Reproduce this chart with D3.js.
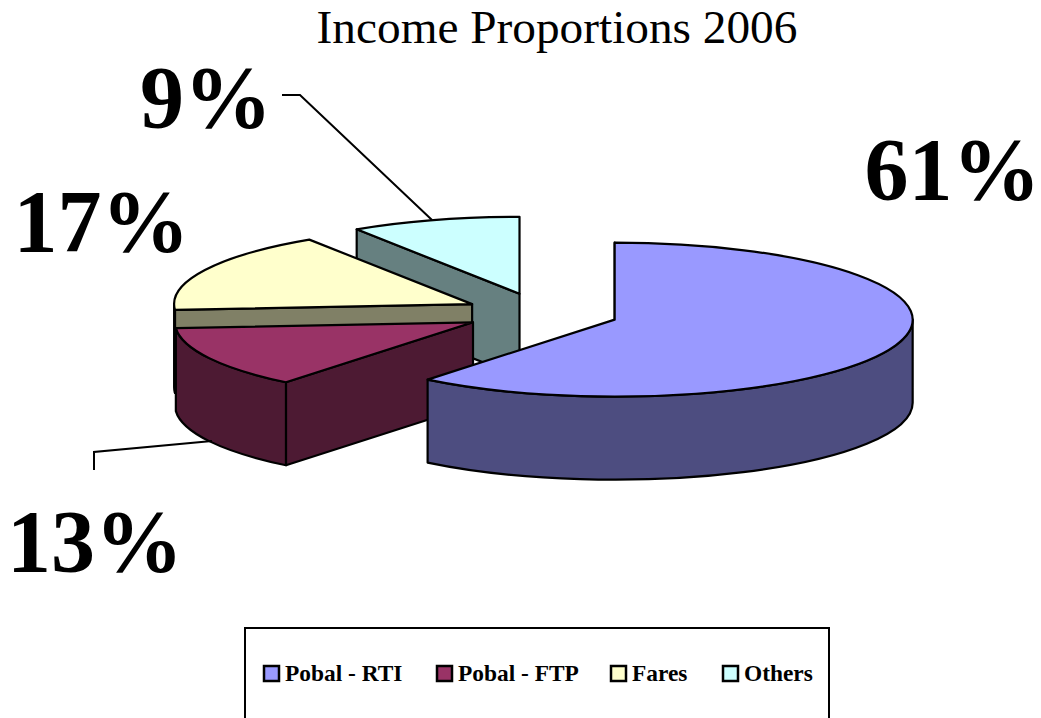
<!DOCTYPE html>
<html>
<head>
<meta charset="utf-8">
<script src="https://cdn.jsdelivr.net/npm/d3@7"></script>
<style>
body { margin: 0; background: #fff; }
text { font-family: "Liberation Serif", serif; fill: #000; }
</style>
</head>
<body>
<div id="vis"></div>
<script>
const categories = ['Pobal - RTI', 'Pobal - FTP', 'Fares', 'Others'];
const values = [60.8, 13, 17, 9.2];
const topColors = ['#9999ff', '#993366', '#ffffcc', '#ccffff'];
const sideColors = ['#4d4d80', '#4d1a33', '#808066', '#668080'];
const labels = ['61%', '13%', '17%', '9%'];

const width = 1041, height = 718;
const cx = 541.6, cy = 313;
const rx = 298, ry = 77, depth = 83, explode = 0.26;

const svg = d3.select('#vis').append('svg')
    .attr('width', width)
    .attr('height', height)
    .style('display', 'block');

svg.append('text')
    .attr('x', 557).attr('y', 43)
    .attr('text-anchor', 'middle')
    .attr('font-size', 47.3)
    .text('Income Proportions 2006');

const arcs = d3.pie().sort(null).startAngle(0).endAngle(2 * Math.PI)(values);

function rim(d, a) {
    return [d.ox + rx * Math.sin(a), d.oy - ry * Math.cos(a)];
}

arcs.forEach(d => {
    const mid = (d.startAngle + d.endAngle) / 2;
    d.ox = cx + rx * explode * Math.sin(mid);
    d.oy = cy - ry * explode * Math.cos(mid);
});

function topPath(d) {
    const s = rim(d, d.startAngle), e = rim(d, d.endAngle);
    const large = d.endAngle - d.startAngle > Math.PI ? 1 : 0;
    return `M${d.ox},${d.oy}L${s}A${rx},${ry} 0 ${large} 1 ${e}Z`;
}

function startFace(d) {
    const s = rim(d, d.startAngle);
    return `M${d.ox},${d.oy}L${s}l0,${depth}L${d.ox},${d.oy + depth}Z`;
}

// outer wall is only seen on the front half of the ellipse
function wallPath(d) {
    const a0 = Math.max(d.startAngle, Math.PI / 2);
    const a1 = Math.min(d.endAngle, 3 * Math.PI / 2);
    if (a1 <= a0) return null;
    const s = rim(d, a0), e = rim(d, a1);
    return `M${s}A${rx},${ry} 0 0 1 ${e}l0,${depth}A${rx},${ry} 0 0 0 ${s[0]},${s[1] + depth}Z`;
}

// back to front: Others, Fares, FTP, RTI
const order = [3, 2, 1, 0];
const pie = svg.append('g')
    .attr('stroke', '#000')
    .attr('stroke-width', 2.2)
    .attr('stroke-linejoin', 'round');

order.forEach(i => {
    const d = arcs[i];
    pie.append('path').attr('d', startFace(d)).attr('fill', sideColors[i]);
    const w = wallPath(d);
    if (w) pie.append('path').attr('d', w).attr('fill', sideColors[i]);
    pie.append('path').attr('d', topPath(d)).attr('fill', topColors[i]);
});

// leader lines
const leaders = [
    [[282, 95], [300, 95], [432, 220]],
    [[94, 470], [94, 452], [212, 441]]
];
svg.selectAll('.leader')
    .data(leaders)
    .join('path')
    .attr('class', 'leader')
    .attr('d', d3.line())
    .attr('fill', 'none')
    .attr('stroke', '#000')
    .attr('stroke-width', 2);

const labelPos = [[952.5, 199], [95, 571], [101.5, 251], [206, 127]];
svg.selectAll('.pct')
    .data(labels)
    .join('text')
    .attr('class', 'pct')
    .attr('x', (d, i) => labelPos[i][0])
    .attr('y', (d, i) => labelPos[i][1])
    .attr('text-anchor', 'middle')
    .attr('font-size', 88)
    .attr('font-weight', 'bold')
    .text(d => d);

// legend
svg.append('rect')
    .attr('x', 245).attr('y', 628)
    .attr('width', 584).attr('height', 110)
    .attr('fill', '#fff')
    .attr('stroke', '#000')
    .attr('stroke-width', 2);

const legendX = d3.scaleOrdinal().domain(categories).range([264, 437, 611, 723]);
const legend = svg.selectAll('.legend')
    .data(categories)
    .join('g')
    .attr('class', 'legend')
    .attr('transform', d => `translate(${legendX(d)},666)`);
legend.append('rect')
    .attr('width', 15).attr('height', 15)
    .attr('fill', (d, i) => topColors[i])
    .attr('stroke', '#000')
    .attr('stroke-width', 2.5);
legend.append('text')
    .attr('x', 21).attr('y', 15)
    .attr('font-size', 23.4)
    .attr('font-weight', 'bold')
    .text(d => d);
</script>
</body>
</html>
